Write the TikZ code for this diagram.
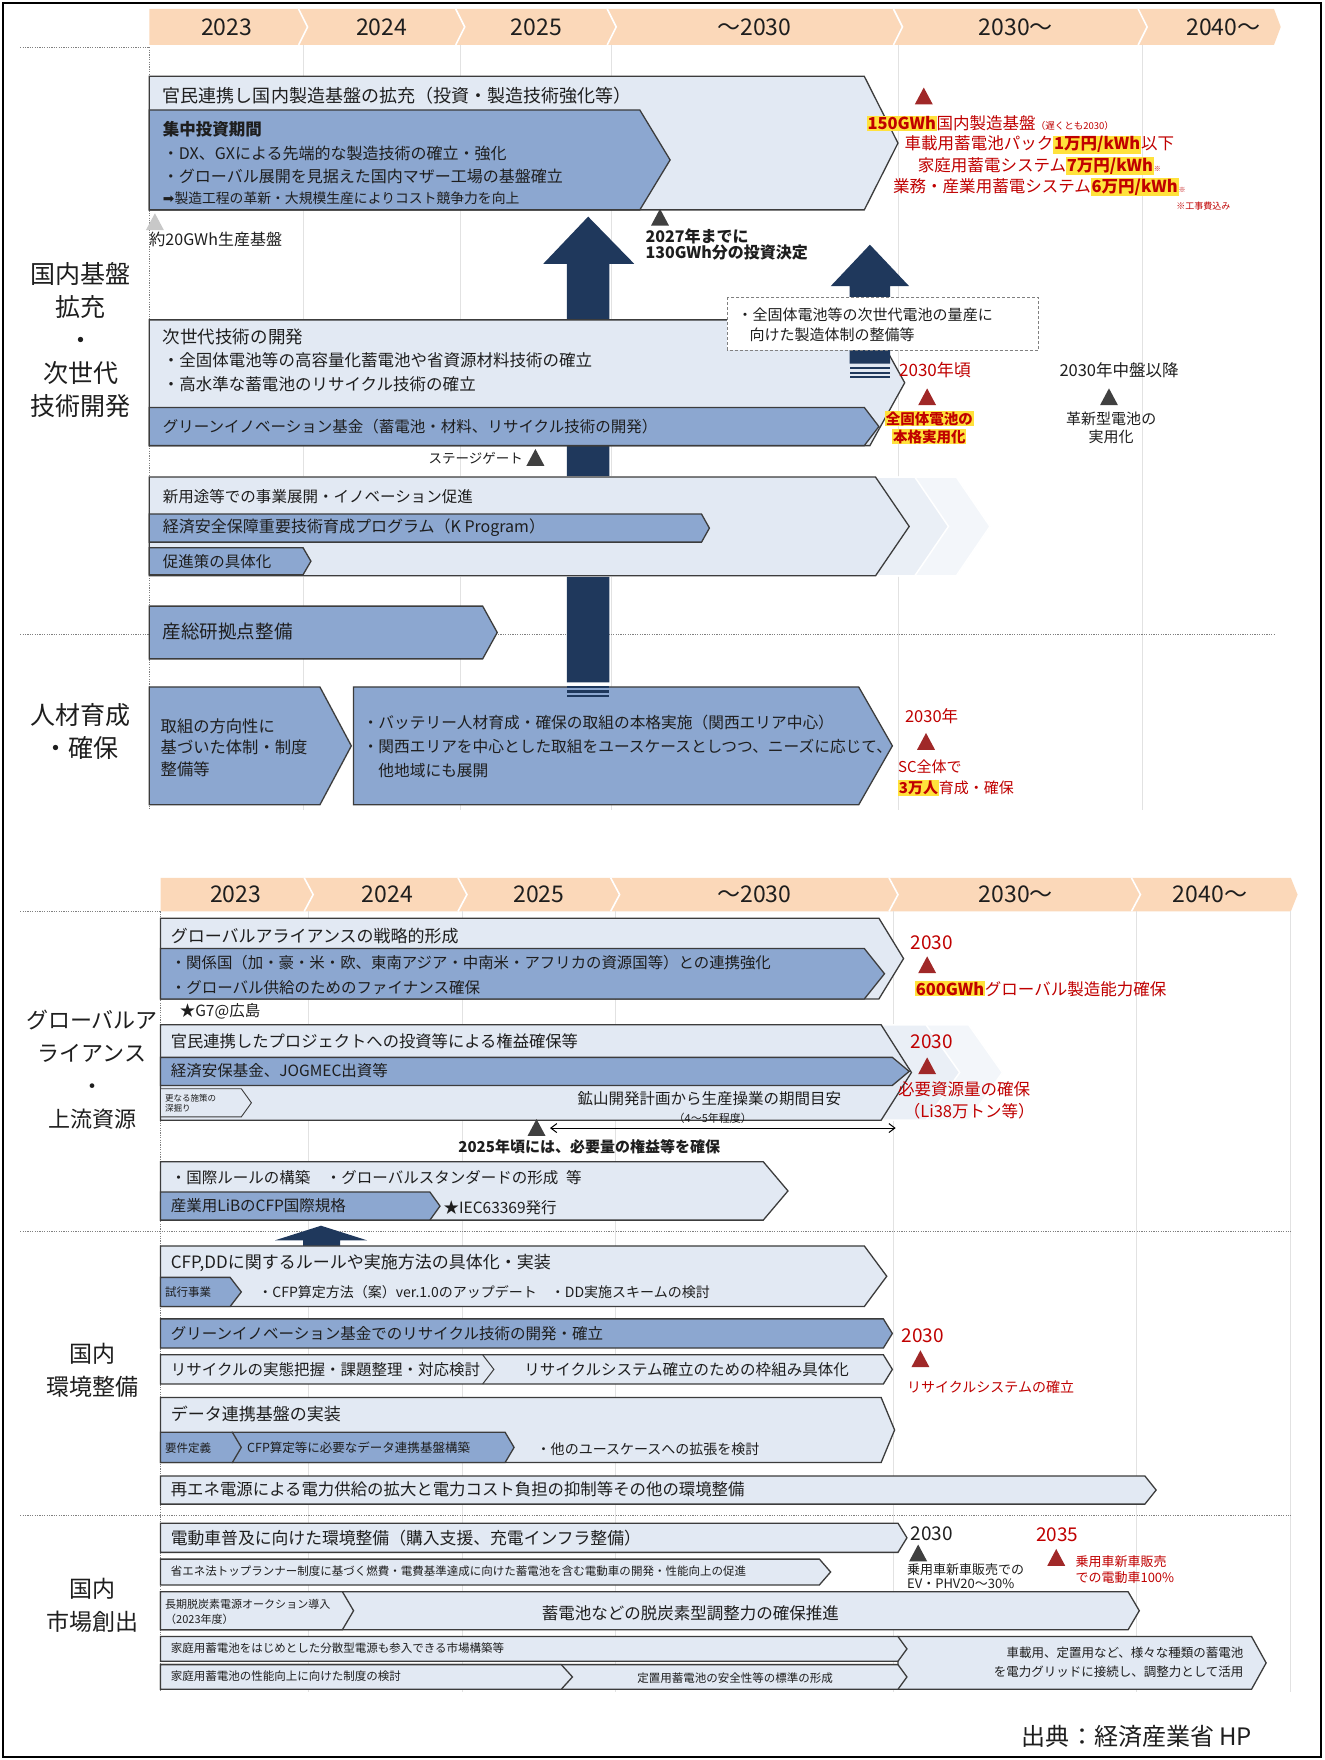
\documentclass[tikz,border=0pt]{standalone}
\usepackage{fontspec}
\setmainfont{Noto Sans CJK JP}
\newfontfamily\symfont{DejaVu Sans}
\usetikzlibrary{arrows.meta}
\definecolor{BandClr}{RGB}{251,216,185}
\definecolor{LightClr}{RGB}{226,233,243}
\definecolor{MidClr}{RGB}{140,167,208}
\definecolor{EdgeClr}{RGB}{60,60,60}
\definecolor{NavyClr}{RGB}{31,56,92}
\definecolor{GridClr}{RGB}{226,226,226}
\definecolor{GhostClr}{RGB}{234,239,246}
\definecolor{GhostClrB}{RGB}{243,246,250}
\definecolor{RedClr}{RGB}{192,0,0}
\definecolor{TriRedClr}{RGB}{160,40,40}
\definecolor{TriClr}{RGB}{64,64,64}
\definecolor{TriPale}{RGB}{200,200,200}
\definecolor{HiClr}{RGB}{255,226,60}
\definecolor{TxtClr}{RGB}{30,30,30}

\newcommand{\fsz}[2]{\fontsize{#1}{#2}\selectfont}
\newcommand{\hl}[1]{{\setlength{\fboxsep}{0.8pt}\colorbox{HiClr}{\bfseries #1}}}
\newcommand{\Chev}[6][lbox]{\draw[#1] (#2,#3) -- (#4,#3) -- ({#4+#6},{(#3+#5)/2}) -- (#4,#5) -- (#2,#5) -- cycle;}
\newcommand{\Tri}[3]{\fill[#1] ({#2-8},{#3+15}) -- (#2,#3) -- ({#2+8},{#3+15}) -- cycle;}

\tikzset{
  lbox/.style={draw=EdgeClr, fill=LightClr, line width=1.3pt},
  mbox/.style={draw=EdgeClr, fill=MidClr, line width=1.3pt},
  ghost/.style={fill=GhostClr, draw=white, line width=1.5pt},
  ghostB/.style={fill=GhostClrB, draw=white, line width=1.5pt},
  txt/.style={inner sep=0pt, anchor=west, text=TxtClr, font=\fsz{15.5pt}{19pt}},
  ttl/.style={txt, font=\fsz{17pt}{20pt}},
  sml/.style={txt, font=\fsz{12pt}{14pt}},
  rtxt/.style={inner sep=0pt, text=RedClr, font=\fsz{16.5pt}{21pt}},
  yr/.style={inner sep=0pt, text=TxtClr, font=\fsz{23pt}{26pt}},
  sect/.style={inner sep=0pt, align=center, text=TxtClr, font=\fsz{25pt}{32.8pt}},
  gridln/.style={GridClr, line width=0.8pt},
  dotln/.style={gray, line width=0.8pt, dash pattern=on 1.2pt off 1.2pt},
  bandsep/.style={white, line width=1.6pt},
  arrowfill/.style={fill=NavyClr},
  dashbox/.style={draw=gray, fill=white, line width=0.9pt, dash pattern=on 3pt off 2pt},
  dblarr/.style={{Straight Barb[length=6pt,width=9pt]}-{Straight Barb[length=6pt,width=9pt]}, line width=1pt},
}

\begin{document}
\begin{tikzpicture}[x=1.122pt,y=-1.122pt]
\useasboundingbox (0,0) rectangle (1180,1568);
\fill[white] (0,0) rectangle (1180,1568);
\draw[line width=2pt] (3,3) rectangle (1177,1565);

% ---- upper chart
\fill[BandClr] (133,8) -- (1135,8) -- (1141,24) -- (1135,40) -- (133,40) -- cycle;
\foreach \s in {270,410,545,800,1018}
  \draw[bandsep] ({\s-4},8) -- ({\s+4},24) -- ({\s-4},40);
\foreach \x/\yr [count=\i] in {202/2023,340/2024,478/2025,672/〜2030,905/2030〜,1090/2040〜}
  \node[yr] (yA\i) at (\x,24) {\yr};
\foreach \s in {270,410,545,800,1018}
  \draw[gridln] (\s,40) -- (\s,722);
\draw[dotln] (18,42) -- (133,42);
\draw[dotln] (133,42) -- (133,722);
\draw[dotln] (18,565) -- (1135,565);

\node[sect] (secA) at (72,303) {国内基盤\\拡充\\・\\次世代\\技術開発};
\node[sect] (secB) at (72,652) {人材育成\\・確保};

\fill[arrowfill] (505,608) -- (505,235) -- (484,235) -- (524,193) -- (565,235) -- (543,235) -- (543,608) -- cycle;

\Chev{133}{68}{770}{187}{30}
\Chev[mbox]{133}{98}{570}{187}{27}
\node[ttl, font=\fsz{18pt}{20pt}] (tKanmin) at (145,85) {官民連携し国内製造基盤の拡充（投資・製造技術強化等）};
\node[txt, font=\bfseries\fsz{16.5pt}{19pt}] (tShuchu) at (145,115) {集中投資期間};
\node[txt, font=\fsz{16pt}{19pt}] (tDX) at (145,137) {・DX、GXによる先端的な製造技術の確立・強化};
\node[txt, font=\fsz{16pt}{19pt}] (tMother) at (145,157) {・グローバル展開を見据えた国内マザー工場の基盤確立};
\node[txt, font=\fsz{13.8pt}{15pt}] (tCost) at (145,177) {{\symfont ➡}製造工程の革新・大規模生産によりコスト競争力を向上};

\Tri{TriPale}{138}{190}
\node[txt, font=\fsz{16pt}{19pt}] (tBase) at (133,213) {約20GWh生産基盤};
\Tri{TriClr}{588}{186}
\node[txt, anchor=north west, align=left, font=\bfseries\fsz{16pt}{15.5pt}] (tInvest) at (575,204) {2027年までに\\130GWh分の投資決定};

\Tri{TriRedClr}{823}{78}
\node[rtxt, anchor=west] (tGoalA) at (772,110) {\hl{150GWh}国内製造基盤{\fsz{9.5pt}{10pt}（遅くとも2030）}};
\node[rtxt] (tGoalB) at (926,129) {車載用蓄電池パック\hl{1万円/kWh}以下};
\node[rtxt] (tGoalC) at (926,148) {家庭用蓄電システム\hl{7万円/kWh}{\fsz{7pt}{8pt}※}};
\node[rtxt] (tGoalD) at (926,167) {業務・産業用蓄電システム\hl{6万円/kWh}{\fsz{7pt}{8pt}※}};
\node[rtxt, font=\fsz{9pt}{10pt}] (tNote) at (1072,184) {※工事費込み};

\Chev{133}{285}{775}{397}{31}
\Chev[mbox]{133}{363}{770}{397}{13}
\node[ttl, font=\fsz{17.5pt}{20pt}] (tNext) at (145,300) {次世代技術の開発};
\node[txt, font=\fsz{16.5pt}{19pt}] (tSolidA) at (145,321) {・全固体電池等の高容量化蓄電池や省資源材料技術の確立};
\node[txt, font=\fsz{16.5pt}{19pt}] (tRecyA) at (145,342) {・高水準な蓄電池のリサイクル技術の確立};
\node[txt] (tGreenA) at (145,380) {グリーンイノベーション基金（蓄電池・材料、リサイクル技術の開発）};

\fill[arrowfill] (757,324) -- (757,255) -- (740,255) -- (775,218) -- (810,255) -- (793,255) -- (793,324) -- cycle;
\foreach \y in {327,331,335}
  \fill[arrowfill] (757,\y) rectangle (793,{\y+2});
\draw[dashbox] (648,265) rectangle (925,312);
\node[txt, align=left, font=\fsz{15pt}{20pt}] (tMass) at (657,289) {・全固体電池等の次世代電池の量産に\\\hspace{0.8em}向けた製造体制の整備等};

\node[txt, anchor=east, font=\fsz{13.5pt}{15pt}] (tGate) at (466,408) {ステージゲート};
\Tri{TriClr}{477}{400}

\node[rtxt, font=\fsz{17pt}{20pt}] (t2030A) at (833,330) {2030年頃};
\Tri{TriRedClr}{826}{346}
\node[rtxt, align=center, font=\bfseries\fsz{14.5pt}{18pt}] (tSolidB) at (828,381) {\hl{全固体電池の}\\\hl{本格実用化}};
\node[txt, anchor=center, font=\fsz{16.5pt}{20pt}] (t2030B) at (997,330) {2030年中盤以降};
\Tri{TriClr}{988}{346}
\node[txt, anchor=center, align=center, font=\fsz{15pt}{18pt}] (tInnov) at (990,381) {革新型電池の\\実用化};

\Chev[ghostB]{133}{425}{852}{513}{30}
\Chev[ghost]{133}{425}{815}{513}{30}
\Chev{133}{425}{780}{513}{30}
\Chev[mbox]{133}{458}{625}{483}{7}
\Chev[mbox]{133}{488}{270}{512}{7}
\node[txt] (tNewUse) at (145,442) {新用途等での事業展開・イノベーション促進};
\node[txt, font=\fsz{16pt}{19pt}] (tKprog) at (145,470) {経済安全保障重要技術育成プログラム（K Program）};
\node[txt] (tPromo) at (145,500) {促進策の具体化};

\Chev[mbox]{133}{540}{430}{587}{13}
\node[ttl, font=\fsz{18.5pt}{20pt}] (tAist) at (145,563) {産総研拠点整備};

\Chev[mbox]{133}{612}{285}{717}{28}
\Chev[mbox]{315}{612}{765}{717}{30}
\foreach \y in {611,615,619}
  \fill[arrowfill] (505,\y) rectangle (543,{\y+2});
\node[txt, align=left, font=\fsz{16.3pt}{21.3pt}] (tHrA) at (143,666) {取組の方向性に\\基づいた体制・制度\\整備等};
\node[txt, align=left, font=\fsz{15.7pt}{24pt}] (tHrB) at (323,665) {・バッテリー人材育成・確保の取組の本格実施（関西エリア中心）\\・関西エリアを中心とした取組をユースケースとしつつ、ニーズに応じて、\\\hspace{1em}他地域にも展開};
\node[rtxt, font=\fsz{16.5pt}{20pt}] (t2030C) at (830,638) {2030年};
\Tri{TriRedClr}{825}{653}
\node[rtxt, anchor=west, font=\fsz{15pt}{18pt}] (tScA) at (800,683) {SC全体で};
\node[rtxt, anchor=west, font=\fsz{15pt}{18pt}] (tScB) at (800,702) {\hl{3万人}育成・確保};

% ---- lower chart
\fill[BandClr] (143,782) -- (1150,782) -- (1156,797) -- (1150,812) -- (143,812) -- cycle;
\foreach \s in {275,412,548,796,1012}
  \draw[bandsep] ({\s-4},782) -- ({\s+4},797) -- ({\s-4},812);
\foreach \x/\yr [count=\i] in {210/2023,345/2024,480/2025,672/〜2030,905/2030〜,1078/2040〜}
  \node[yr] (yB\i) at (\x,797) {\yr};
\foreach \s in {275,412,548,796,1012,1150}
  \draw[gridln] (\s,812) -- (\s,1507);
\draw[dotln] (18,812) -- (143,812);
\draw[dotln] (143,812) -- (143,1507);
\draw[dotln] (18,1097) -- (1150,1097);
\draw[dotln] (18,1350) -- (1150,1350);

\node[sect, font=\fsz{22pt}{32.8pt}] (secC) at (82,953) {グローバルア\\ライアンス\\・\\上流資源};
\node[sect, font=\fsz{23pt}{32.8pt}] (secD) at (82,1221) {国内\\環境整備};
\node[sect, font=\fsz{23pt}{32.8pt}] (secE) at (82,1430) {国内\\市場創出};

\Chev{143}{818}{783}{890}{22}
\Chev[mbox]{143}{845}{770}{890}{18}
\node[ttl] (tAlliance) at (152,834) {グローバルアライアンスの戦略的形成};
\node[txt, font=\fsz{15.4pt}{19pt}] (tPartner) at (152,858) {・関係国（加・豪・米・欧、東南アジア・中南米・アフリカの資源国等）との連携強化};
\node[txt] (tFinance) at (152,880) {・グローバル供給のためのファイナンス確保};
\node[txt] (tG7) at (160,901) {★G7@広島};
\node[rtxt, font=\fsz{19pt}{22pt}] (t2030D) at (830,840) {2030};
\Tri{TriRedClr}{826}{852}
\node[rtxt, anchor=west] (tCap) at (815,881) {\hl{600GWh}グローバル製造能力確保};

\Chev[ghostB]{143}{913}{863}{998}{30}
\Chev[ghost]{143}{913}{825}{998}{30}
\Chev{143}{913}{785}{998}{27}
\Chev[mbox]{143}{942}{795}{967}{15}
\Chev[lbox, line width=0.9pt]{143}{970}{215}{995}{9}
\node[ttl, font=\fsz{16.3pt}{20pt}] (tRights) at (152,928) {官民連携したプロジェクトへの投資等による権益確保等};
\node[txt] (tJogmec) at (152,954) {経済安保基金、JOGMEC出資等};
\node[txt, align=left, font=\fsz{8.5pt}{10.5pt}] (tDeep) at (147,983) {更なる施策の\\深掘り};
\node[txt, anchor=center] (tMine) at (632,979) {鉱山開発計画から生産操業の期間目安};
\node[txt, anchor=center, font=\fsz{11pt}{12pt}] (tYears) at (635,996) {（4〜5年程度）};
\node[rtxt, font=\fsz{19pt}{22pt}] (t2030E) at (830,928) {2030};
\Tri{TriRedClr}{826}{942}
\node[rtxt, anchor=west] (tResA) at (800,970) {必要資源量の確保};
\node[rtxt, anchor=west] (tResB) at (805,990) {（Li38万トン等）};

\Tri{TriClr}{478}{997}
\coordinate (dL) at (490,1005);
\coordinate (dR) at (798,1005);
\draw[dblarr] (dL) -- (dR);
\node[txt, anchor=center, font=\bfseries\fsz{15pt}{18pt}] (tSecure) at (525,1022) {2025年頃には、必要量の権益等を確保};

\Chev{143}{1035}{680}{1087}{22}
\Chev[mbox]{143}{1062}{383}{1087}{9}
\node[txt] (tRule) at (152,1049) {・国際ルールの構築\hspace{1em}・グローバルスタンダードの形成\hspace{0.5em}等};
\node[txt] (tLib) at (152,1074) {産業用LiBのCFP国際規格};
\node[txt] (tIec) at (395,1076) {★IEC63369発行};

\fill[arrowfill] (270,1111) -- (270,1105) -- (245,1105) -- (286,1092) -- (327,1105) -- (303,1105) -- (303,1111) -- cycle;

\Chev{143}{1110}{770}{1164}{20}
\Chev[mbox]{143}{1138}{205}{1164}{10}
\node[ttl] (tCfp) at (152,1125) {CFP,DDに関するルールや実施方法の具体化・実装};
\node[txt, font=\fsz{11.5pt}{13pt}] (tTrial) at (147,1151) {試行事業};
\node[txt, font=\fsz{14pt}{16pt}] (tCfpB) at (230,1151) {・CFP算定方法（案）ver.1.0のアップデート\hspace{1em}・DD実施スキームの検討};

\Chev[mbox]{143}{1175}{787}{1201}{8}
\node[txt] (tGreenB) at (152,1188) {グリーンイノベーション基金でのリサイクル技術の開発・確立};
\Chev{143}{1207}{787}{1233}{8}
\draw[EdgeClr, line width=1pt] (430,1207) -- (440,1220) -- (430,1233);
\node[txt] (tRecyB) at (152,1220) {リサイクルの実態把握・課題整理・対応検討};
\node[txt] (tRecyC) at (467,1220) {リサイクルシステム確立のための枠組み具体化};
\node[rtxt, font=\fsz{19pt}{22pt}] (t2030F) at (822,1190) {2030};
\Tri{TriRedClr}{820}{1203}
\node[rtxt, anchor=west, font=\fsz{14pt}{17pt}] (tRecyD) at (808,1236) {リサイクルシステムの確立};

\Chev{143}{1245}{785}{1303}{12}
\Chev[mbox]{207}{1276}{450}{1303}{8}
\Chev[mbox]{143}{1276}{207}{1303}{8}
\node[ttl] (tData) at (152,1260) {データ連携基盤の実装};
\node[txt, font=\fsz{11.5pt}{13pt}] (tReq) at (147,1290) {要件定義};
\node[txt, font=\fsz{12.5pt}{14pt}] (tBuild) at (220,1290) {CFP算定等に必要なデータ連携基盤構築};
\node[txt, font=\fsz{14pt}{16pt}] (tOther) at (478,1291) {・他のユースケースへの拡張を検討};

\Chev{143}{1315}{1020}{1340}{10}
\node[txt, font=\fsz{16.4pt}{19pt}] (tRenew) at (152,1327) {再エネ電源による電力供給の拡大と電力コスト負担の抑制等その他の環境整備};

\Chev{143}{1357}{800}{1383}{8}
\node[txt, font=\fsz{16.8pt}{19pt}] (tEv) at (152,1370) {電動車普及に向けた環境整備（購入支援、充電インフラ整備）};
\Chev{143}{1389}{730}{1412}{10}
\node[txt, font=\fsz{11.5pt}{13pt}] (tTop) at (152,1400) {省エネ法トップランナー制度に基づく燃費・電費基準達成に向けた蓄電池を含む電動車の開発・性能向上の促進};
\Chev{143}{1418}{1005}{1452}{10}
\Chev{143}{1418}{305}{1452}{10}
\node[txt, align=left, font=\fsz{11pt}{15pt}] (tAuction) at (147,1436) {長期脱炭素電源オークション導入\\（2023年度）};
\node[txt, anchor=center, font=\fsz{16.5pt}{19pt}] (tFlex) at (615,1437) {蓄電池などの脱炭素型調整力の確保推進};
\Chev{800}{1458}{1115}{1505}{13}
\Chev{143}{1458}{800}{1480}{8}
\Chev{143}{1483}{800}{1505}{8}
\Chev{143}{1483}{500}{1505}{10}
\node[txt, font=\fsz{11.5pt}{13pt}] (tMarket) at (152,1468) {家庭用蓄電池をはじめとした分散型電源も参入できる市場構築等};
\node[txt, font=\fsz{11.5pt}{13pt}] (tHome) at (152,1493) {家庭用蓄電池の性能向上に向けた制度の検討};
\node[txt, anchor=center, font=\fsz{11.5pt}{13pt}] (tSafe) at (655,1495) {定置用蓄電池の安全性等の標準の形成};
\node[txt, anchor=east, align=right, font=\fsz{12.5pt}{18.5pt}] (tGrid) at (1108,1481) {車載用、定置用など、様々な種類の蓄電池\\を電力グリッドに接続し、調整力として活用};

\node[txt, anchor=center, font=\fsz{19pt}{22pt}] (t2030G) at (830,1366) {2030};
\Tri{TriClr}{818}{1376}
\node[txt, align=left, font=\fsz{13pt}{14.5pt}] (tShare) at (808,1404) {乗用車新車販売での\\EV・PHV20〜30\%};
\node[rtxt, font=\fsz{19pt}{22pt}] (t2035) at (942,1367) {2035};
\Tri{TriRedClr}{941}{1380}
\node[rtxt, anchor=west, align=left, font=\fsz{13pt}{16pt}] (tFull) at (958,1398) {乗用車新車販売\\での電動車100\%};

\node[inner sep=0pt, text=TxtClr, font=\fsz{24pt}{26pt}] (tSrc) at (1013,1547) {出典：経済産業省 HP};
\end{tikzpicture}
\end{document}
